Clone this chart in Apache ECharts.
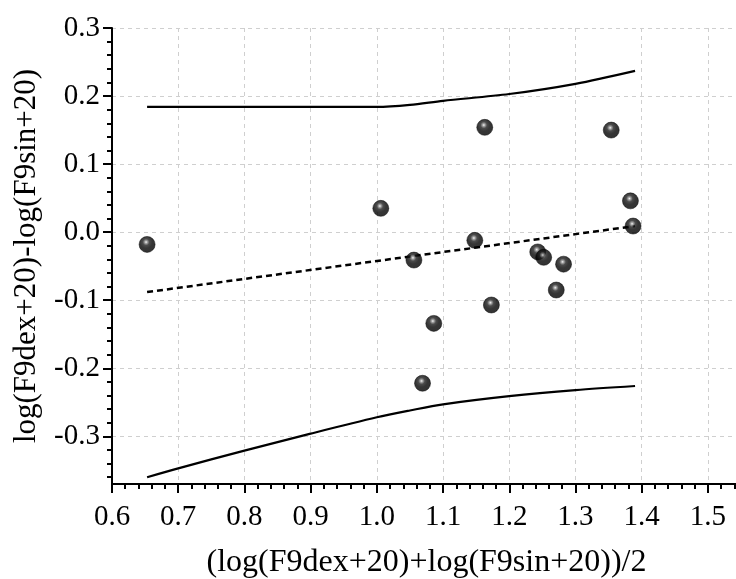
<!DOCTYPE html>
<html><head><meta charset="utf-8">
<script src="https://cdn.jsdelivr.net/npm/echarts@6/dist/echarts.min.js"></script>
<style>html,body{margin:0;padding:0;background:#fff}#c{width:736px;height:579px}</style>
</head><body><div id="c"></div>
<script>
// tick labels
const xTicks = [0.6,0.7,0.8,0.9,1.0,1.1,1.2,1.3,1.4,1.5];
const yTicks = [-0.3,-0.2,-0.1,0.0,0.1,0.2,0.3];
// scatter: mean vs difference
const meanX = [0.653,1.006,1.056,1.148,1.163,1.354,1.383,1.387,1.243,1.252,1.282,1.271,1.173,1.086,1.069];
const diffY = [-0.018,0.035,-0.041,-0.012,0.154,0.150,0.046,0.009,-0.029,-0.037,-0.047,-0.085,-0.107,-0.134,-0.222];
// fitted regression (dashed)
const fitX = [0.653,1.390];
const fitY = [-0.088,0.009];
// upper limit curve
const upX = [0.653,0.8,0.9,1.0,1.05,1.1,1.2,1.3,1.39];
const upY = [0.184,0.184,0.184,0.184,0.187,0.193,0.203,0.218,0.237];
// lower limit curve
const loX = [0.653,0.7,0.8,0.9,1.0,1.05,1.1,1.2,1.3,1.39];
const loY = [-0.360,-0.347,-0.321,-0.296,-0.272,-0.262,-0.253,-0.241,-0.232,-0.226];

const xMinor = [], yMinor = [];
for (let i = 31; i <= 77; i++) { if (i % 5 !== 0) xMinor.push(i / 50); }
for (let i = -18; i <= 15; i++) { if (i % 5 !== 0) yMinor.push(i / 50); }

const pairs = (a, b) => a.map((v, i) => [v, b[i]]);
const FONT = 'Liberation Serif';
const ball = {
  type: 'radial', x: 0.44, y: 0.36, r: 0.62,
  colorStops: [
    {offset: 0, color: '#f4f4f4'},
    {offset: 0.13, color: '#8c8c8c'},
    {offset: 0.32, color: '#1e1e1e'},
    {offset: 0.6, color: '#030303'},
    {offset: 1, color: '#000'}
  ]
};
const chart = echarts.init(document.getElementById('c'));
const xBase = {type: 'value', min: 0.6, max: 1.55, gridIndex: 0, position: 'bottom'};
const yBase = {type: 'value', min: -0.37, max: 0.3, gridIndex: 0, position: 'left'};
chart.setOption({
  animation: false,
  backgroundColor: '#fff',
  grid: {left: 112, top: 28, width: 629, height: 456, containLabel: false, outerBoundsMode: 'none'},
  xAxis: [
    Object.assign({}, xBase, {
      name: '(log(F9dex+20)+log(F9sin+20))/2',
      nameLocation: 'middle', nameGap: 63,
      nameTextStyle: {fontFamily: FONT, fontSize: 32, color: '#000'},
      axisLine: {show: true, onZero: false, lineStyle: {color: '#000', width: 2}},
      axisTick: {show: true, inside: false, length: 9, customValues: xTicks, lineStyle: {color: '#000', width: 2}},
      axisLabel: {customValues: xTicks, formatter: v => v.toFixed(1), fontFamily: FONT, fontSize: 29, color: '#000', margin: 19},
      splitLine: {show: true, lineStyle: {color: '#cfcfcf', type: [4, 4], width: 1}}
    }),
    Object.assign({}, xBase, {
      axisLine: {show: false, onZero: false},
      axisTick: {show: true, length: 5, customValues: xMinor, lineStyle: {color: '#000', width: 2}},
      axisLabel: {show: false},
      splitLine: {show: false}
    })
  ],
  yAxis: [
    Object.assign({}, yBase, {
      name: 'log(F9dex+20)-log(F9sin+20)',
      nameLocation: 'middle', nameGap: 70, nameRotate: 90,
      nameTextStyle: {fontFamily: FONT, fontSize: 31, color: '#000'},
      axisLine: {show: true, onZero: false, lineStyle: {color: '#000', width: 2}},
      axisTick: {show: true, inside: false, length: 9, customValues: yTicks, lineStyle: {color: '#000', width: 2}},
      axisLabel: {customValues: yTicks, formatter: v => v.toFixed(1), fontFamily: FONT, fontSize: 29, color: '#000', margin: 12},
      splitLine: {show: true, lineStyle: {color: '#cfcfcf', type: [4, 4], width: 1}}
    }),
    Object.assign({}, yBase, {
      axisLine: {show: false, onZero: false},
      axisTick: {show: true, length: 5, customValues: yMinor, lineStyle: {color: '#000', width: 2}},
      axisLabel: {show: false},
      splitLine: {show: false}
    })
  ],
  series: [
    {type: 'line', data: pairs(upX, upY), smooth: 0.3, showSymbol: false, lineStyle: {color: '#000', width: 2.2}, z: 3},
    {type: 'line', data: pairs(loX, loY), smooth: 0.3, showSymbol: false, lineStyle: {color: '#000', width: 2.2}, z: 3},
    {type: 'line', data: pairs(fitX, fitY), showSymbol: false, lineStyle: {color: '#000', width: 2.5, type: [6, 4]}, z: 3},
    {type: 'scatter', data: pairs(meanX, diffY), symbol: 'circle', symbolSize: 16,
     itemStyle: {color: ball, borderColor: '#000', borderWidth: 0.6}, z: 5}
  ]
});
</script></body></html>
